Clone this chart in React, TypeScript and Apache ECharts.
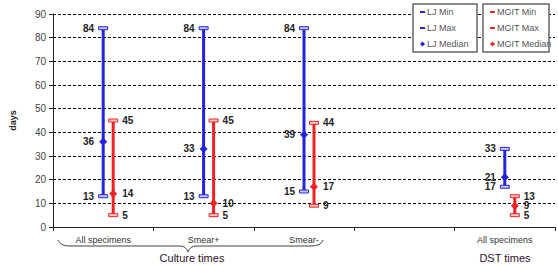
import React, { useEffect, useRef } from "react";
import * as echarts from "echarts";

const categories = ["All specimens", "Smear+", "Smear-", "", "All specimens"];
const ljMin = [13, 13, 15, null, 17];
const ljMax = [84, 84, 84, null, 33];
const ljMedian = [36, 33, 39, null, 21];
const mgitMin = [5, 5, 9, null, 5];
const mgitMax = [45, 45, 44, null, 13];
const mgitMedian = [14, 10, 17, null, 9];
const yTicks = [0, 10, 20, 30, 40, 50, 60, 70, 80, 90];
const groupLabels = ["Culture times", "DST times"];
const legendLJ = ["LJ Min", "LJ Max", "LJ Median"];
const legendMGIT = ["MGIT Min", "MGIT Max", "MGIT Median"];

const BLUE = "#2323dc";
const RED = "#ee2222";

echarts.graphic.registerShape(
  "brace",
  echarts.graphic.extendPath(
    "M0,0 Q2,6 12,6 L122,6 Q128,6 130,12 Q132,6 138,6 L253,6 Q263,6 265,0",
    {}
  )
);

function buildData(mins: (number | null)[], maxs: (number | null)[], meds: (number | null)[]) {
  const out: number[][] = [];
  for (let i = 0; i < mins.length; i++) {
    if (mins[i] == null) continue;
    out.push([i, mins[i] as number, maxs[i] as number, meds[i] as number]);
  }
  return out;
}

function makeRender(color: string, fill: string, offset: number, labelSide: "left" | "right") {
  return (params: any, api: any) => {
    const i = api.value(0);
    const mn = api.value(1);
    const mx = api.value(2);
    const md = api.value(3);
    const pMin = api.coord([i, mn]);
    const pMax = api.coord([i, mx]);
    const pMed = api.coord([i, md]);
    const x = pMin[0] + offset;
    const lx = labelSide === "left" ? x - 9 : x + 9;
    const align = labelSide === "left" ? "right" : "left";
    const txt = (v: number, y: number) => ({
      type: "text",
      style: {
        text: String(v),
        x: lx,
        y,
        align,
        verticalAlign: "middle",
        font: "bold 10px Arial, 'Liberation Sans', sans-serif",
        fill: "#222",
      },
    });
    return {
      type: "group",
      children: [
        {
          type: "line",
          shape: { x1: x, y1: pMax[1], x2: x, y2: pMin[1] },
          style: { stroke: color, lineWidth: 3 },
        },
        {
          type: "rect",
          shape: { x: x - 4.5, y: pMax[1] - 1.5, width: 9, height: 3 },
          style: { fill: fill, stroke: color, lineWidth: 1 },
        },
        {
          type: "rect",
          shape: { x: x - 4.5, y: pMin[1] - 1.5, width: 9, height: 3 },
          style: { fill: fill, stroke: color, lineWidth: 1 },
        },
        {
          type: "polygon",
          shape: {
            points: [
              [x, pMed[1] - 4],
              [x + 4, pMed[1]],
              [x, pMed[1] + 4],
              [x - 4, pMed[1]],
            ],
          },
          style: { fill: color },
        },
        txt(mx, pMax[1]),
        txt(md, pMed[1]),
        txt(mn, pMin[1]),
      ],
    };
  };
}

function legendBox(x: number, y: number, w: number, h: number, names: string[], color: string) {
  const children: any[] = [
    {
      type: "rect",
      z: 100,
      shape: { x: 0, y: 0, width: w, height: h },
      style: { fill: "#fff", stroke: "#666", lineWidth: 1.5 },
    },
  ];
  names.forEach((n, k) => {
    const cy = 8 + k * 16;
    if (k < 2) {
      children.push({
        type: "rect",
        z: 101,
        shape: { x: 7, y: cy - 1, width: 5, height: 2 },
        style: { fill: color },
      });
    } else {
      children.push({
        type: "polygon",
        z: 101,
        shape: { points: [[9.5, cy - 2.5], [12, cy], [9.5, cy + 2.5], [7, cy]] },
        style: { fill: color },
      });
    }
    children.push({
      type: "text",
      z: 101,
      style: {
        text: n,
        x: 14,
        y: cy,
        verticalAlign: "middle",
        font: "9px Arial, 'Liberation Sans', sans-serif",
        fill: "#555",
      },
    });
  });
  return { type: "group", x, y, z: 100, children };
}

export default function App() {
  const ref = useRef<HTMLDivElement>(null);
  useEffect(() => {
    if (!ref.current) return;
    document.body.style.margin = "0";
    const chart = echarts.init(ref.current, null, { renderer: "svg" });
    chart.setOption({
      animation: false,
      backgroundColor: "#fff",
      grid: { left: 45, right: 3, top: 14, bottom: 38, containLabel: false },
      xAxis: {
        type: "category",
        data: categories,
        axisLine: { lineStyle: { color: "#222", width: 1 } },
        axisTick: { show: true, length: 4, lineStyle: { color: "#222" } },
        axisLabel: {
          fontSize: 9,
          color: "#333",
          margin: 8,
          fontFamily: "Arial, 'Liberation Sans', sans-serif",
          interval: 0,
        },
      },
      yAxis: {
        type: "value",
        min: 0,
        max: 90,
        interval: 10,
        name: "days",
        nameLocation: "middle",
        nameRotate: 90,
        nameGap: 36,
        nameTextStyle: {
          fontSize: 9,
          fontWeight: "bold",
          color: "#222",
          fontFamily: "Arial, 'Liberation Sans', sans-serif",
        },
        axisLine: { show: true, lineStyle: { color: "#222", width: 1 } },
        axisTick: { show: true, length: 4, lineStyle: { color: "#222" } },
        axisLabel: {
          fontSize: 10,
          color: "#444",
          margin: 7,
          fontFamily: "Arial, 'Liberation Sans', sans-serif",
          formatter: (v: number) => (yTicks.includes(v) ? String(v) : ""),
        },
        splitLine: { show: true, lineStyle: { color: "#000", type: [3, 2], width: 1 } },
      },
      series: [
        {
          type: "custom",
          name: "LJ",
          data: buildData(ljMin, ljMax, ljMedian),
          renderItem: makeRender(BLUE, "#c8c8ff", 0, "left"),
          encode: { x: 0, y: [1, 2, 3] },
        },
        {
          type: "custom",
          name: "MGIT",
          data: buildData(mgitMin, mgitMax, mgitMedian),
          renderItem: makeRender(RED, "#ffc8c8", 10, "right"),
          encode: { x: 0, y: [1, 2, 3] },
        },
      ],
      graphic: [
        legendBox(413, 4, 64, 48, legendLJ, BLUE),
        legendBox(483, 4, 66, 48, legendMGIT, RED),
        {
          type: "brace",
          x: 58,
          y: 240,
          style: { fill: "none", stroke: "#444", lineWidth: 1 },
        },
        {
          type: "text",
          style: {
            text: groupLabels[0],
            x: 192,
            y: 258,
            align: "center",
            verticalAlign: "middle",
            font: "11px Arial, 'Liberation Sans', sans-serif",
            fill: "#301030",
          },
        },
        {
          type: "text",
          style: {
            text: groupLabels[1],
            x: 505,
            y: 258,
            align: "center",
            verticalAlign: "middle",
            font: "11px Arial, 'Liberation Sans', sans-serif",
            fill: "#301030",
          },
        },
      ],
    });
    return () => chart.dispose();
  }, []);
  return <div ref={ref} style={{ width: 558, height: 265 }} />;
}
